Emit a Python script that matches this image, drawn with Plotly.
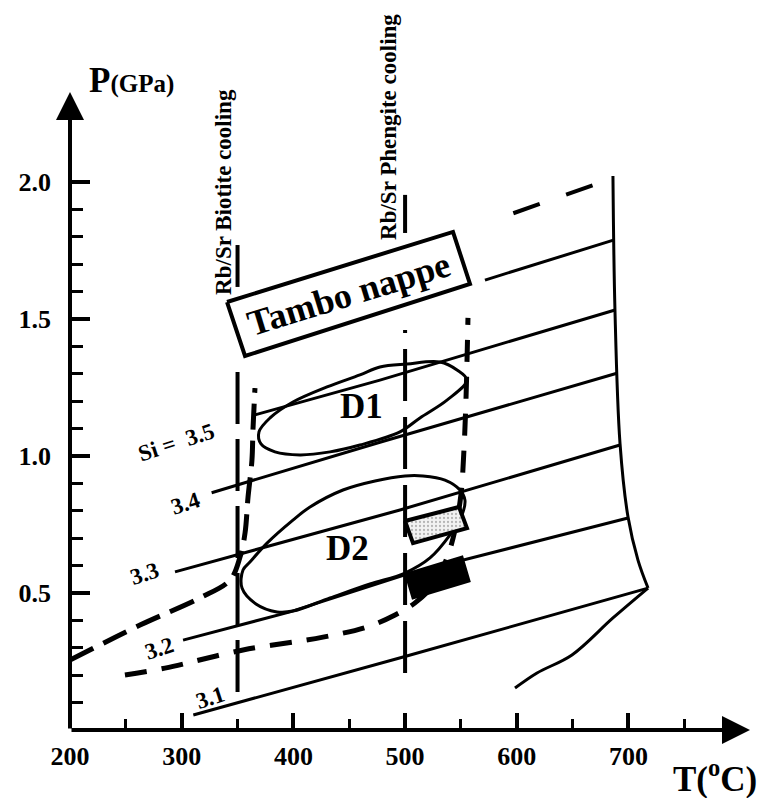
import plotly.graph_objects as go

SERIF = "Liberation Serif"

# ---------------- axis ticks ----------------
x_major = [200, 300, 400, 500, 600, 700]
x_major_labels = ["<b>200</b>", "<b>300</b>", "<b>400</b>", "<b>500</b>",
                  "<b>600</b>", "<b>700</b>"]
x_minor = [250, 350, 450, 550, 650, 750]
y_major = [0.5, 1.0, 1.5, 2.0]
y_major_labels = ["<b>0.5</b>", "<b>1.0</b>", "<b>1.5</b>", "<b>2.0</b>"]
y_minor = [0.1, 0.2, 0.3, 0.4, 0.6, 0.7, 0.8, 0.9, 1.1, 1.2, 1.3, 1.4,
           1.6, 1.7, 1.8, 1.9]
x_range = [200, 808.8]
y_range = [0, 2.3285]

# ---------------- Si isopleths (T in C, P in GPa) ----------------
si36_T = [571.5, 686.5]
si36_P = [1.642, 1.788]
si35_T = [365.6, 477.5, 688.0]
si35_P = [1.150, 1.277, 1.533]
si34_T = [326.8, 477.5, 689.6]
si34_P = [0.866, 1.050, 1.302]
si33_T = [294.0, 495.4, 692.4]
si33_P = [0.577, 0.803, 1.040]
si32_T = [301.2, 397.0, 499.9, 699.6]
si32_P = [0.328, 0.431, 0.566, 0.774]
si31_T = [310.4, 499.9, 717.5]
si31_P = [0.055, 0.268, 0.518]

# right-hand boundary (upper part and lower part meeting at the kink)
bound_up_T = [686.1, 687.9, 692.4, 699.6, 708.5, 717.5]
bound_up_P = [2.022, 1.533, 1.047, 0.777, 0.620, 0.518]
bound_lo_T = [717.5, 686.1, 649.4, 618.1, 598.4]
bound_lo_P = [0.518, 0.409, 0.274, 0.208, 0.153]

# thick dashed curves
dash1_T = [200.0, 262.7, 316.4, 343.2, 352.2, 356.7, 359.4, 362.9, 363.8, 365.6]
dash1_P = [0.255, 0.383, 0.482, 0.547, 0.631, 0.719, 0.850, 0.985, 1.095, 1.248]
dash2_T = [249.2, 285.0, 354.9, 426.5, 465.9, 491.0, 508.9, 526.8, 538.4,
           544.7, 550.0, 552.7, 554.5, 556.3]
dash2_P = [0.201, 0.226, 0.292, 0.339, 0.376, 0.420, 0.464, 0.536, 0.639,
           0.730, 0.858, 1.022, 1.204, 1.504]
dash3_T = [596.9, 668.5]
dash3_P = [1.886, 1.989]

# Rb/Sr cooling temperatures
biot_T = 350
biot_P = [0.139, 1.321]
biot_tick_P = [1.617, 1.770]
phen_T = 500
phen_P = [0.208, 1.460]
phen_tick_P = [1.814, 1.953]

# D1 / D2 fields (outline)
d1_T = [555.4, 546.5, 531.2, 501.7, 477.5, 459.6, 430.1, 399.6, 379.1, 369.2,
        371.0, 383.5, 405.9, 432.8, 459.6, 495.4, 513.3, 537.5, 555.4]
d1_P = [1.277, 1.314, 1.343, 1.336, 1.325, 1.296, 1.252, 1.197, 1.139, 1.088,
        1.044, 1.015, 1.004, 1.015, 1.040, 1.088, 1.139, 1.204, 1.277]
d2_T = [553.6, 550.9, 540.2, 522.3, 499.9, 468.6, 432.8, 399.6, 385.3, 366.5,
        354.0, 354.9, 361.1, 376.4, 399.6, 414.9, 444.4, 473.1, 499.9, 516.0,
        535.7, 549.1, 553.6]
d2_P = [0.839, 0.785, 0.712, 0.628, 0.573, 0.533, 0.482, 0.434, 0.431, 0.460,
        0.518, 0.584, 0.613, 0.682, 0.766, 0.814, 0.876, 0.909, 0.927, 0.927,
        0.912, 0.876, 0.839]

# Tambo nappe box
box_T = [340.6, 542.9, 558.1, 356.7, 340.6]
box_P = [1.562, 1.818, 1.628, 1.365, 1.562]
# small rectangles
rect_dot_T = [499.9, 548.3, 555.4, 507.1, 499.9]
rect_dot_P = [0.763, 0.814, 0.737, 0.682, 0.763]
rect_blk_T = [500.8, 550.9, 557.2, 507.1, 500.8]
rect_blk_P = [0.569, 0.631, 0.544, 0.482, 0.569]

fig = go.Figure()


def line(T, P, width=3, dash="solid", shape="linear"):
    fig.add_trace(go.Scatter(x=T, y=P, mode="lines",
                             line=dict(color="black", width=width, dash=dash,
                                       shape=shape),
                             hoverinfo="skip", showlegend=False))


for T, P in [(si36_T, si36_P), (si35_T, si35_P), (si34_T, si34_P),
             (si33_T, si33_P), (si32_T, si32_P), (si31_T, si31_P)]:
    line(T, P, width=3)

line(bound_up_T, bound_up_P, width=3, shape="spline")
line(bound_lo_T, bound_lo_P, width=3, shape="spline")

line(dash1_T, dash1_P, width=5, dash="26px,11px", shape="spline")
line(dash2_T, dash2_P, width=5, dash="22px,15px", shape="spline")
line(dash3_T, dash3_P, width=4, dash="28px,28px")

line([biot_T, biot_T], biot_P, width=4, dash="52px,15px")
line([biot_T, biot_T], biot_tick_P, width=4)
line([phen_T, phen_T], phen_P, width=4, dash="52px,16px")
line([phen_T, phen_T], phen_tick_P, width=4)

line(d1_T, d1_P, width=3, shape="spline")
line(d2_T, d2_P, width=3, shape="spline")

fig.add_trace(go.Scatter(x=box_T, y=box_P, mode="lines", fill="toself",
                         fillcolor="white", line=dict(color="black", width=4),
                         hoverinfo="skip", showlegend=False))
fig.add_trace(go.Scatter(x=rect_dot_T, y=rect_dot_P, mode="lines", fill="toself",
                         fillcolor="#dedede",
                         fillpattern=dict(shape=".", size=4, solidity=0.25,
                                          fgcolor="#777777", bgcolor="#f2f2f2"),
                         line=dict(color="black", width=4),
                         hoverinfo="skip", showlegend=False))
fig.add_trace(go.Scatter(x=rect_blk_T, y=rect_blk_P, mode="lines", fill="toself",
                         fillcolor="black", line=dict(color="black", width=3),
                         hoverinfo="skip", showlegend=False))


def label(text, x, y, size, angle=0, xanchor="center", yanchor="middle",
          ref="data"):
    r = "paper" if ref == "paper" else None
    fig.add_annotation(x=x, y=y, xref=r or "x", yref=r or "y",
                       text="<b>" + text + "</b>", showarrow=False,
                       textangle=angle, xanchor=xanchor, yanchor=yanchor,
                       font=dict(size=size, family=SERIF, color="black"))


label("Si =  3.5", 294.9, 1.051, 23, -18)
label("3.4", 303.0, 0.828, 23, -18)
label("3.3", 267.1, 0.573, 23, -18)
label("3.2", 279.7, 0.296, 23, -18)
label("3.1", 326.2, 0.117, 23, -18)
label("D1", 461.4, 1.179, 35)
label("D2", 448.0, 0.661, 35)
label("Tambo nappe", 449.6, 1.590, 36, -17)
label("Rb/Sr Biotite cooling", 337.9, 1.964, 23, -90)
label("Rb/Sr Phengite cooling", 485.6, 2.201, 23, -90)
label("P<span style='font-size:25px'>(GPa)</span>", 0.025, 1.0188, 35,
      xanchor="left", ref="paper")
label("T(<sup>o</sup>C)", 0.884, -0.073, 35, xanchor="left", ref="paper")

# axis lines with arrowheads
fig.add_annotation(x=x_range[1], y=0, ax=x_range[0], ay=0, xref="x", yref="y",
                   axref="x", ayref="y", text="", showarrow=True, arrowhead=2,
                   arrowsize=1.4, arrowwidth=4, arrowcolor="black")
fig.add_annotation(x=x_range[0], y=y_range[1], ax=x_range[0], ay=0, xref="x",
                   yref="y", axref="x", ayref="y", text="", showarrow=True,
                   arrowhead=2, arrowsize=1.4, arrowwidth=4, arrowcolor="black")

tickfont = dict(family=SERIF, size=26, color="black")
fig.update_layout(
    width=765, height=798,
    margin=dict(l=62, r=23, t=84, b=76, pad=0, autoexpand=False),
    paper_bgcolor="white", plot_bgcolor="white",
    xaxis=dict(range=x_range, showgrid=False, zeroline=False, showline=False,
               automargin=False,
               ticks="inside", ticklen=17, tickwidth=4, tickcolor="black",
               tickmode="array", tickvals=x_major, ticktext=x_major_labels,
               tickfont=tickfont, ticklabelstandoff=8,
               minor=dict(tickmode="array", tickvals=x_minor, ticks="inside",
                          ticklen=11, tickwidth=3, tickcolor="black",
                          showgrid=False)),
    yaxis=dict(range=y_range, showgrid=False, zeroline=False, showline=False,
               automargin=False,
               ticks="inside", ticklen=20, tickwidth=4, tickcolor="black",
               tickmode="array", tickvals=y_major, ticktext=y_major_labels,
               tickfont=tickfont, ticklabelstandoff=18,
               minor=dict(tickmode="array", tickvals=y_minor, ticks="inside",
                          ticklen=13, tickwidth=3, tickcolor="black",
                          showgrid=False)),
)

fig.write_html("out.html")
